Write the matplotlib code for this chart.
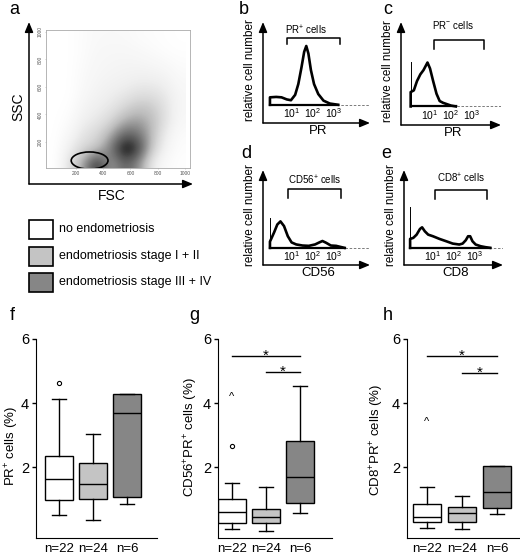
import numpy as np
import matplotlib
matplotlib.use('Agg')
import matplotlib.pyplot as plt
from matplotlib.patches import Ellipse, Rectangle

plt.rcParams['font.family'] = ['Liberation Sans', 'DejaVu Sans']
plt.rcParams['mathtext.fontset'] = 'custom'
plt.rcParams['mathtext.rm'] = 'Liberation Sans'
plt.rcParams['mathtext.it'] = 'Liberation Sans:italic'

W, H = 520, 559

# ---- panel a: FSC/SSC event density, 100-unit bins, rows = SSC from bottom
density = np.array([
    [0, 2.0, 4.5, 9.0, 4.5, 7.0, 5.5, 1.5, 0.4, 0.1],
    [0, 1.3, 2.6, 3.2, 6.0, 10.0, 8.5, 3.2, 0.9, 0.2],
    [0, 0.7, 1.9, 2.6, 4.2, 7.0, 6.5, 3.8, 1.3, 0.3],
    [0, 0.3, 1.3, 1.7, 2.6, 4.2, 4.8, 3.8, 2.0, 0.6],
    [0, 0.1, 0.9, 1.3, 1.7, 2.6, 3.4, 3.2, 2.0, 0.7],
    [0, 0.0, 0.6, 1.0, 1.3, 1.6, 2.1, 2.1, 1.6, 0.7],
    [0, 0.0, 0.5, 0.8, 1.0, 1.1, 1.3, 1.3, 1.1, 0.5],
    [0, 0.0, 0.4, 0.7, 0.8, 0.9, 0.9, 0.8, 0.6, 0.3],
    [0, 0.0, 0.3, 0.6, 0.7, 0.7, 0.6, 0.4, 0.2, 0.1],
    [0, 0.0, 0.3, 0.5, 0.5, 0.5, 0.3, 0.2, 0.1, 0.0],
])
scatter_ticks = [200, 400, 600, 800, 1000]
gate_center = (300, 65)
gate_size = (270, 125)

# ---- panels b-e: histograms, x = log10 intensity, y = fraction of frame height
b_log = [-0.05, -0.05, 0.25, 0.5, 0.75, 0.95, 1.15, 1.3, 1.45, 1.58, 1.68, 1.78, 1.9, 2.05, 2.25, 2.5, 2.8, 3.2]
b_cnt = [0, 0.09, 0.095, 0.09, 0.065, 0.055, 0.12, 0.25, 0.45, 0.64, 0.71, 0.62, 0.42, 0.25, 0.13, 0.05, 0.015, 0]
c_log = [0.08, 0.08, 0.23, 0.38, 0.54, 0.69, 0.88, 1.0, 1.15, 1.31, 1.46, 1.62, 1.77, 2.0, 2.23]
c_cnt = [0, 0.17, 0.19, 0.30, 0.38, 0.43, 0.52, 0.45, 0.30, 0.15, 0.064, 0.043, 0.03, 0.01, 0]
d_log = [-0.05, -0.05, 0.15, 0.3, 0.45, 0.62, 0.8, 0.98, 1.2, 1.5, 1.8, 2.1, 2.3, 2.45, 2.62, 2.85, 3.1, 3.3, 3.5]
d_cnt = [0, 0.08, 0.2, 0.3, 0.34, 0.28, 0.15, 0.07, 0.044, 0.03, 0.026, 0.044, 0.07, 0.088, 0.066, 0.03, 0.026, 0.013, 0]
e_log = [-0.09, -0.09, 0.06, 0.22, 0.38, 0.48, 0.61, 0.77, 1.0, 1.31, 1.63, 1.94, 2.25, 2.41, 2.56, 2.67, 2.77, 2.88, 3.03, 3.27, 3.5, 3.73]
e_cnt = [0, 0.115, 0.128, 0.17, 0.243, 0.264, 0.213, 0.17, 0.149, 0.115, 0.085, 0.055, 0.043, 0.055, 0.098, 0.149, 0.149, 0.085, 0.043, 0.021, 0.009, 0]
spikes = {'b': None, 'c': 0.53, 'd': 0.39, 'e': 0.53}
brackets = {'b': (0.78, 3.27, 0.73, 0.81), 'c': (1.2, 3.58, 0.68, 0.79),
            'd': (0.8, 3.34, 0.64, 0.75), 'e': (1.11, 3.58, 0.63, 0.74)}
gate_names = {'b': r'PR$^{+}$ cells', 'c': r'PR$^{-}$ cells',
              'd': r'CD56$^{+}$ cells', 'e': r'CD8$^{+}$ cells'}
gate_text_pos = {'b': (1.68, 0.9), 'c': (2.08, 0.96), 'd': (2.07, 0.87), 'e': (2.33, 0.89)}
markers = {'b': 'PR', 'c': 'PR', 'd': 'CD56', 'e': 'CD8'}
decades = [1, 2, 3]

# ---- panels f-h: box plots
groups = ['no endometriosis', 'endometriosis stage I + II', 'endometriosis stage III + IV']
group_colors = ['white', '#c4c4c4', '#868686']
n_labels = ['n=22', 'n=24', 'n=6']

f_whislo = [0.50, 0.34, 0.84]
f_q1 = [0.97, 0.99, 1.05]
f_med = [1.62, 1.47, 3.68]
f_q3 = [2.34, 2.13, 4.28]
f_whishi = [4.13, 3.02, 4.28]
f_circles = [(1, 4.62)]
f_carets = []
f_sig = []

g_whislo = [0.05, 0.0, 0.58]
g_q1 = [0.26, 0.24, 0.88]
g_med = [0.59, 0.43, 1.70]
g_q3 = [1.00, 0.69, 2.82]
g_whishi = [1.51, 1.37, 4.53]
g_circles = [(1, 2.67)]
g_carets = [(1, 4.2)]
g_sig = [(1, 3, 5.47), (2, 3, 4.98)]

h_whislo = [0.09, 0.05, 0.53]
h_q1 = [0.29, 0.29, 0.71]
h_med = [0.45, 0.58, 1.22]
h_q3 = [0.84, 0.74, 2.04]
h_whishi = [1.38, 1.10, 2.04]
h_circles = []
h_carets = [(1, 3.42)]
h_sig = [(1, 3, 5.47), (2, 3, 4.95)]

fig = plt.figure(figsize=(W / 100, H / 100), dpi=100)


def px_axes(x, y, w, h):
    return fig.add_axes([x / W, 1 - (y + h) / H, w / W, h / H])


def fig_text(x, y, s, **kw):
    kw.setdefault('ha', 'center')
    kw.setdefault('va', 'center')
    fig.text(x / W, 1 - y / H, s, **kw)


def arrows(ax):
    kw = dict(arrowstyle='-|>,head_length=0.6,head_width=0.25', color='k',
              lw=1.1, shrinkA=0, shrinkB=0)
    ax.annotate('', xy=(0, 1), xytext=(0, 0), xycoords='axes fraction', arrowprops=kw)
    ax.annotate('', xy=(1, 0), xytext=(0, 0), xycoords='axes fraction', arrowprops=kw)


# panel letters
for s, x, y in [('a', 14, 10), ('b', 244, 10), ('c', 388, 10), ('d', 246, 153),
                ('e', 386, 153), ('f', 12, 316), ('g', 194, 316), ('h', 388, 316)]:
    fig_text(x, y, s, fontsize=13)

# ---- a
ax = px_axes(29, 22, 164, 162)
ax.axis('off')
arrows(ax)
fig_text(18, 107, 'SSC', fontsize=10, rotation=90)
fig_text(112, 196, 'FSC', fontsize=10)

ax = px_axes(46, 30, 144, 138)
ax.imshow(density, origin='lower', extent=(0, 1000, 0, 1000), cmap='Greys',
          vmin=0, vmax=10, interpolation='bicubic', aspect='auto')
ax.add_patch(Ellipse(gate_center, gate_size[0], gate_size[1], fill=False, ec='k', lw=1.2))
ax.set_xlim(-20, 1037)
ax.set_ylim(11, 1014)
for sp in ax.spines.values():
    sp.set_color('#aaaaaa')
    sp.set_linewidth(0.6)
ax.set_xticks(scatter_ticks)
ax.set_yticks(scatter_ticks)
ax.set_xticklabels([str(t) for t in scatter_ticks], fontsize=3.5, color='#555555')
ax.set_yticklabels([str(t) for t in scatter_ticks], fontsize=3.5, color='#555555',
                   rotation=90, va='center')
ax.tick_params(length=1, width=0.4, color='#aaaaaa', pad=1.5)

# ---- b-e
frames = {'b': (263, 22, 370, 123), 'c': (401, 22, 501, 125),
          'd': (263, 170, 370, 265), 'e': (404, 170, 503, 265)}
curves = {'b': (b_log, b_cnt), 'c': (c_log, c_cnt), 'd': (d_log, d_cnt), 'e': (e_log, e_cnt)}
for key in 'bcde':
    x0, y0, x1, y1 = frames[key]
    ax = px_axes(x0, y0, x1 - x0, y1 - y0)
    ax.axis('off')
    ax.set_xlim(-8 / 21, (x1 - x0 - 8) / 21)
    ax.set_ylim(-0.22, 1.0)
    arrows(ax)
    lx, cy = curves[key]
    ax.plot([lx[0], ax.get_xlim()[1]], [0, 0], color='#666666', lw=0.6, ls=(0, (3, 2)))
    ax.plot(lx, cy, color='k', lw=1.9, solid_joinstyle='round')
    ax.plot([lx[0], lx[-1]], [0, 0], color='k', lw=1.6)
    if spikes[key] is not None:
        ax.plot([lx[0], lx[0]], [0, spikes[key]], color='k', lw=0.7)
    bl, br, blo, bhi = brackets[key]
    ax.plot([bl, bl, br, br], [blo, bhi, bhi, blo], color='k', lw=1.1)
    tx, ty = gate_text_pos[key]
    ax.text(tx, ty, gate_names[key], ha='center', va='center', fontsize=7)
    for k in decades:
        ax.text(k, -0.1, '$10^{%d}$' % k, ha='center', va='center', fontsize=7.5)
    fig_text(x0 - 13, (y0 + y1) / 2 - 2, 'relative cell number', rotation=90, fontsize=8.5)
    fig_text((x0 + x1) / 2 + 2, y1 + 8, markers[key], fontsize=9.5)

# ---- legend
ax = px_axes(0, 210, 240, 90)
ax.axis('off')
ax.set_xlim(0, 240)
ax.set_ylim(90, 0)
for i, (lab, col) in enumerate(zip(groups, group_colors)):
    top = 10 + i * 26.5
    ax.add_patch(Rectangle((28.5, top), 24, 19, fc=col, ec='k', lw=1.2))
    ax.text(59, top + 9.5, lab, ha='left', va='center', fontsize=9)

# ---- f-h
box_panels = [
    ('f', (36, 157), (1 - 23 / 34, 1 + 98 / 34), f_whislo, f_q1, f_med, f_q3, f_whishi,
     f_circles, f_carets, f_sig, r'PR$^{+}$ cells (%)', 12, 446),
    ('g', (218, 332), (1 - 14 / 34, 1 + 100 / 34), g_whislo, g_q1, g_med, g_q3, g_whishi,
     g_circles, g_carets, g_sig, r'CD56$^{+}$PR$^{+}$ cells (%)', 191, 437),
    ('h', (407, 520), (1 - 20 / 35, 1 + 93 / 35), h_whislo, h_q1, h_med, h_q3, h_whishi,
     h_circles, h_carets, h_sig, r'CD8$^{+}$PR$^{+}$ cells (%)', 377, 440),
]
for (key, (xa, xb), xlim, wlo, q1, med, q3, whi, circ, car, sig, ylab, ylab_x, ylab_y) in box_panels:
    ax = px_axes(xa, 339, xb - xa, 537.5 - 339)
    stats = [dict(whislo=wlo[i], q1=q1[i], med=med[i], q3=q3[i], whishi=whi[i], fliers=[])
             for i in range(3)]
    bp = ax.bxp(stats, positions=[1, 2, 3], widths=0.8, patch_artist=True, showfliers=False,
                capwidths=0.4,
                boxprops=dict(lw=1.0, edgecolor='k'),
                medianprops=dict(color='k', lw=1.0),
                whiskerprops=dict(color='k', lw=1.0),
                capprops=dict(color='k', lw=1.0))
    for patch, col in zip(bp['boxes'], group_colors):
        patch.set_facecolor(col)
    for gi, v in circ:
        ax.plot(gi, v, 'o', mfc='none', mec='k', ms=3, mew=0.8)
    for gi, v in car:
        ax.text(gi, v, '^', ha='center', va='center', fontsize=8)
    for a, b, v in sig:
        ax.plot([a, b], [v, v], color='k', lw=1.0)
        ax.text((a + b) / 2, v - 0.12, '*', ha='center', va='baseline', fontsize=11)
    ax.set_xlim(*xlim)
    ax.set_ylim(-0.2, 6)
    ax.spines['top'].set_visible(False)
    ax.spines['right'].set_visible(False)
    ax.spines['left'].set_bounds(-0.2, 6)
    ax.set_yticks([2, 4, 6])
    ax.set_yticklabels(['2', '4', '6'], fontsize=10.5)
    ax.set_xticks([1, 2, 3])
    ax.set_xticklabels(n_labels, fontsize=9.5)
    ax.tick_params(axis='x', length=0, pad=4)
    ax.tick_params(axis='y', length=3, width=1, pad=2)
    fig_text(ylab_x, ylab_y, ylab, rotation=90, fontsize=9.5)

fig.savefig('out.png', dpi=100)
